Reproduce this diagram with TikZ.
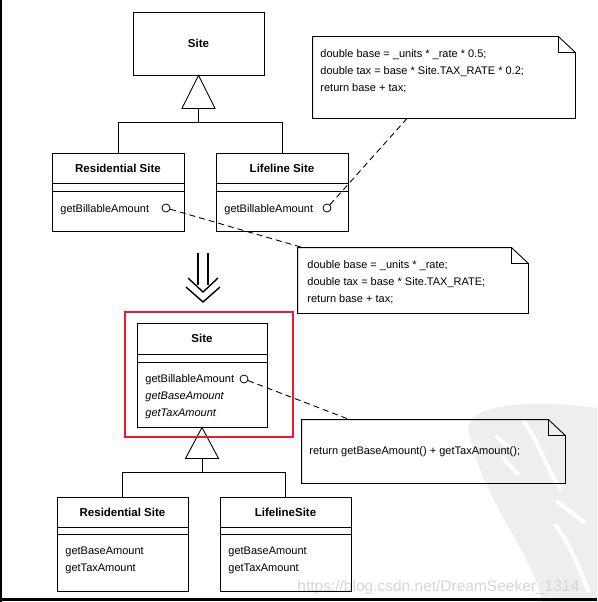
\documentclass[tikz,border=0pt]{standalone}
\usepackage{fontspec}
\setmainfont{Liberation Sans}
\definecolor{boxred}{RGB}{232,28,48}
\definecolor{wmgray}{RGB}{238,238,238}
\definecolor{urlgray}{RGB}{214,214,214}

\begin{document}
\begin{tikzpicture}[x=1pt,y=-1pt,line width=0.9pt,
  classbox/.style={draw,minimum width=132pt,inner sep=0pt},
  cname/.style={font=\fontsize{11.5}{13}\selectfont\bfseries,inner sep=0pt},
  meth/.style={font=\fontsize{11}{16.8}\selectfont,anchor=north west,inner sep=0pt,align=left},
  port/.style={circle,draw,minimum size=8pt,inner sep=0pt,line width=0.8pt},
  notebox/.style={inner sep=0pt},
  conn/.style={dash pattern=on 6pt off 4pt}]
  \useasboundingbox (0,0) rectangle (597,602);

  % watermark in the corner
  \fill[wmgray] (468,427) .. controls (472,402) and (540,400) .. (597,408)
    -- (597,602) -- (542,602) .. controls (535,555) and (480,500) .. cycle;
  \draw[white,line width=4pt,line cap=round] (497,437) -- (514,452);
  \draw[white,line width=4pt,line cap=round] (503,458) -- (518,474);
  \draw[white,line width=4pt,line cap=round] (524,422) .. controls (538,440) and (546,468) .. (560,488);
  \draw[white,line width=4pt,line cap=round] (558,502) -- (584,522);
  \draw[white,line width=4pt,line cap=round] (556,526) .. controls (570,545) and (578,565) .. (588,590);
  \node[urlgray,font=\fontsize{15.5}{17}\selectfont,anchor=base west,inner sep=0pt]
    (url) at (297,591) {https://blog.csdn.net/DreamSeeker\_1314};

  % frame of the scan
  \draw[line width=1.6pt] (0.8,0) -- (0.8,602);
  \draw[line width=2.6pt] (0,599.7) -- (597,599.7);

  % before: classes
  \node[classbox,minimum width=131pt,minimum height=63pt] (siteA) at (198.5,43.5) {};
  \node[cname] at (siteA) {Site};
  \node[classbox,minimum height=78pt] (resA) at (118,192) {};
  \node[classbox,minimum height=78pt] (lifeA) at (282,192) {};
  \node[cname] at ([yshift=-15.5pt]resA.north) {Residential Site};
  \node[cname] at ([yshift=-15.5pt]lifeA.north) {Lifeline Site};
  \node[meth] (resAm) at (60,204) {getBillableAmount};
  \node[meth] (lifeAm) at (224,204) {getBillableAmount};
  \node[port] (resAp) at (166,208) {};
  \node[port] (lifeAp) at (327,208) {};

  % after: classes
  \node[classbox,minimum width=130pt,minimum height=104pt] (siteB) at (202,375) {};
  \node[cname] at ([yshift=-16pt]siteB.north) {Site};
  \node[meth] (siteBm) at (145,374.5)
    {getBillableAmount\\\textit{getBaseAmount}\\\textit{getTaxAmount}};
  \node[port] (siteBp) at (244,379) {};
  \node[classbox,minimum width=131pt,minimum height=94pt] (resB) at (122.5,544) {};
  \node[classbox,minimum width=131pt,minimum height=94pt] (lifeB) at (285.5,544) {};
  \node[cname] at ([yshift=-15.5pt]resB.north) {Residential Site};
  \node[cname] at ([yshift=-15.5pt]lifeB.north) {LifelineSite};
  \node[meth] (resBm) at (65,546.5) {getBaseAmount\\getTaxAmount};
  \node[meth] (lifeBm) at (228,546.5) {getBaseAmount\\getTaxAmount};

  % compartments
  \foreach \c/\a/\b in {resA/31/39,lifeA/31/39,siteB/32/40,resB/31/38,lifeB/31/38}{
    \draw ([yshift=-\a pt]\c.north west) -- ([yshift=-\a pt]\c.north east);
    \draw ([yshift=-\b pt]\c.north west) -- ([yshift=-\b pt]\c.north east);
  }

  % generalization
  \draw (siteA.south) -- ++(-16.5,33) -- ++(33,0) -- cycle;
  \coordinate (gA) at ([yshift=-33pt]siteA.south);
  \draw (gA) -- ++(0,14) -| (resA.north);
  \draw (gA) ++(0,14) -| (lifeA.north);
  \draw (siteB.south) -- ++(-16.5,31) -- ++(33,0) -- cycle;
  \coordinate (gB) at ([yshift=-31pt]siteB.south);
  \draw (gB) -- ++(0,14) -| (resB.north);
  \draw (gB) ++(0,14) -| (lifeB.north);

  % notes
  \node[notebox,minimum width=262pt,minimum height=81pt] (noteA) at (444,77.5) {};
  \node[notebox,minimum width=230pt,minimum height=65pt] (noteB) at (413,280.5) {};
  \node[notebox,minimum width=263pt,minimum height=63pt] (noteC) at (433.5,451.5) {};
  \foreach \n in {noteA,noteB,noteC}{
    \draw (\n.north west) -- ([xshift=-17pt]\n.north east) -- ([yshift=-16pt]\n.north east)
      -- (\n.south east) -- (\n.south west) -- cycle;
    \draw ([xshift=-17pt]\n.north east) |- ([yshift=-16pt]\n.north east);
  }
  \node[meth] (noteAt) at (320,49.5)
    {double base = \_units * \_rate * 0.5;\\double tax = base * Site.TAX\_RATE * 0.2;\\return base + tax;};
  \node[meth] (noteBt) at (307,260)
    {double base = \_units * \_rate;\\double tax = base * Site.TAX\_RATE;\\return base + tax;};
  \node[meth] (noteCt) at (309,446.5) {return getBaseAmount() + getTaxAmount();};

  % links to the notes
  \draw[conn] (lifeAp) -- ([xshift=-37pt]noteA.south);
  \draw[conn] (resAp) -- ([xshift=5pt]noteB.north west);
  \draw[conn] (siteBp) -- ([xshift=48pt]noteC.north west);

  % refactoring arrow
  \draw[line width=1.4pt] (198,253) -- (198,285);
  \draw[line width=1.4pt] (208,253) -- (208,285);
  \draw[line width=1.4pt] (188,278) -- (203,292) -- (218,278);
  \draw[line width=1.4pt] (186,287) -- (203,302) -- (220,287);

  % highlight
  \draw[boxred,line width=1.5pt] (125,312) rectangle (293,437);
\end{tikzpicture}
\end{document}
